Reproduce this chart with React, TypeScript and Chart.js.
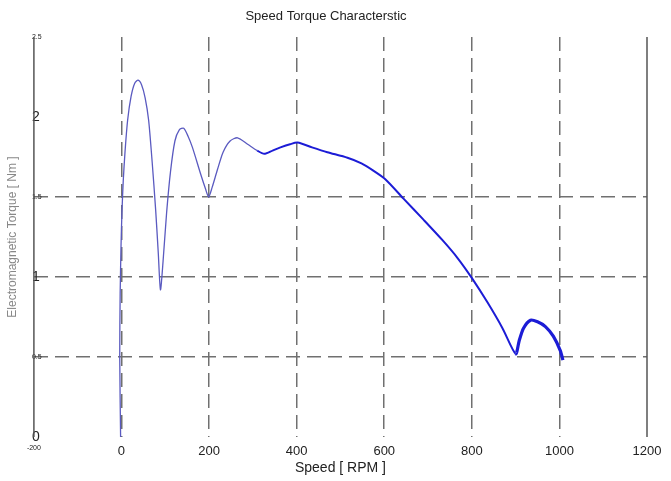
import React, { useEffect, useRef } from "react";
import { Chart, registerables } from "chart.js";

Chart.register(...registerables);

const speedRpm = [
  -2, -4, -3, -1, 1, 4, 8, 14, 22, 30, 38, 46, 54, 62, 70, 78, 84, 89, 95, 103, 112, 122, 132, 142, 152,
  162, 180, 192, 199, 207, 219, 232, 248, 265, 288, 310, 326, 345, 363, 385, 402, 435, 470, 516, 548,
  575, 603, 644, 689, 733, 767, 801, 836, 870, 900, 908, 918, 934, 950, 968, 986, 1002, 1008,
];
const torqueNm = [
  0.0, 0.5, 0.9, 1.2, 1.4, 1.6, 1.78, 1.98, 2.13, 2.21, 2.23, 2.2, 2.12, 1.98, 1.72, 1.42, 1.15, 0.92,
  1.1, 1.4, 1.66, 1.85, 1.92, 1.93, 1.88, 1.81, 1.65, 1.55, 1.5, 1.56, 1.67, 1.78, 1.85, 1.87, 1.83,
  1.79, 1.77, 1.79, 1.81, 1.83, 1.84, 1.81, 1.78, 1.745, 1.71, 1.665, 1.61, 1.49, 1.36, 1.23, 1.12,
  0.99, 0.84, 0.68, 0.52, 0.6, 0.68, 0.73, 0.72, 0.69, 0.63, 0.54, 0.48,
];
const xTicks = [-200, 0, 200, 400, 600, 800, 1000, 1200];
const yTicks = [0, 0.5, 1, 1.5, 2, 2.5];
const xGridShown = [0, 200, 400, 600, 800, 1000];
const yGridShown = [0.5, 1, 1.5];

const FONT = "Arial, 'Liberation Sans', sans-serif";

const sideLines = {
  id: "sideLines",
  afterDatasetsDraw(chart: any) {
    const { ctx, chartArea, scales } = chart;
    const xs = scales.x;
    ctx.save();
    ctx.strokeStyle = "#555555";
    ctx.lineWidth = 1.5;
    [xTicks[0], xTicks[xTicks.length - 1]].forEach((v) => {
      const px = xs.getPixelForValue(v);
      ctx.beginPath();
      ctx.moveTo(px, chartArea.top);
      ctx.lineTo(px, chartArea.bottom);
      ctx.stroke();
    });
    ctx.restore();
  },
};

export default function App() {
  const ref = useRef<HTMLCanvasElement | null>(null);
  useEffect(() => {
    if (!ref.current) return;
    const data = speedRpm.map((x, i) => ({ x, y: torqueNm[i] }));
    const chart = new Chart(ref.current, {
      type: "scatter",
      data: {
        datasets: [
          {
            data,
            showLine: true,
            pointRadius: 0,
            borderColor: "#1c1cd6",
            borderWidth: 2,
            tension: 0.25,
            segment: {
              borderColor: (c: any) => (c.p0.parsed.x < 300 ? "#5a5ac0" : "#1c1cd6"),
              borderWidth: (c: any) =>
                c.p0.parsed.x < 300 ? 1.3 : c.p0.parsed.x >= 900 ? 3.2 : 2,
            },
          },
        ],
      },
      plugins: [sideLines],
      options: {
        animation: false,
        responsive: false,
        devicePixelRatio: 1,
        layout: { padding: { left: 5, right: 24, top: 0, bottom: 0.6 } },
        plugins: {
          legend: { display: false },
          tooltip: { enabled: false },
          title: {
            display: true,
            text: "Speed Torque Characterstic",
            color: "#222",
            font: { family: FONT, size: 13, weight: "normal" },
            padding: { top: 9, bottom: 12.4 },
          },
        },
        scales: {
          x: {
            type: "linear",
            min: -200,
            max: 1200,
            afterBuildTicks: (s: any) => {
              s.ticks = xTicks.map((v) => ({ value: v }));
            },
            grid: {
              drawTicks: false,
              lineWidth: 1.5,
              color: (c: any) =>
                c.tick && xGridShown.includes(c.tick.value) ? "#707070" : "rgba(0,0,0,0)",
            },
            border: { display: false, dash: [14, 7] },
            ticks: {
              padding: 7,
              color: "#222",
              maxRotation: 0,
              autoSkip: false,
              font: (c: any) => ({
                family: FONT,
                size: c.tick && c.tick.value === -200 ? 7 : 13,
              }),
              callback: (v: any) => String(v),
            },
            title: {
              display: true,
              text: "Speed [ RPM ]",
              color: "#222",
              font: { family: FONT, size: 14 },
              padding: { top: -7, bottom: 4 },
            },
          },
          y: {
            type: "linear",
            min: 0,
            max: 2.5,
            afterBuildTicks: (s: any) => {
              s.ticks = yTicks.map((v) => ({ value: v }));
            },
            grid: {
              drawTicks: false,
              lineWidth: 1.5,
              color: (c: any) =>
                c.tick && yGridShown.includes(c.tick.value) ? "#707070" : "rgba(0,0,0,0)",
            },
            border: { display: false, dash: [14, 7] },
            ticks: {
              mirror: true,
              padding: -2,
              color: "#222",
              autoSkip: false,
              font: (c: any) => ({
                family: FONT,
                size: c.tick && Number.isInteger(c.tick.value) ? 14 : 7,
              }),
              callback: (v: any) => String(v),
            },
            title: {
              display: true,
              text: "Electromagnetic Torque [ Nm ]",
              color: "#888",
              font: { family: FONT, size: 12 },
              padding: { top: 0.8, bottom: 17.7 },
            },
          },
        },
      },
    });
    return () => chart.destroy();
  }, []);
  return (
    <div style={{ position: "fixed", left: 0, top: 0, width: 671, height: 481, background: "#fff" }}>
      <canvas ref={ref} width={671} height={481} style={{ display: "block" }} />
    </div>
  );
}
